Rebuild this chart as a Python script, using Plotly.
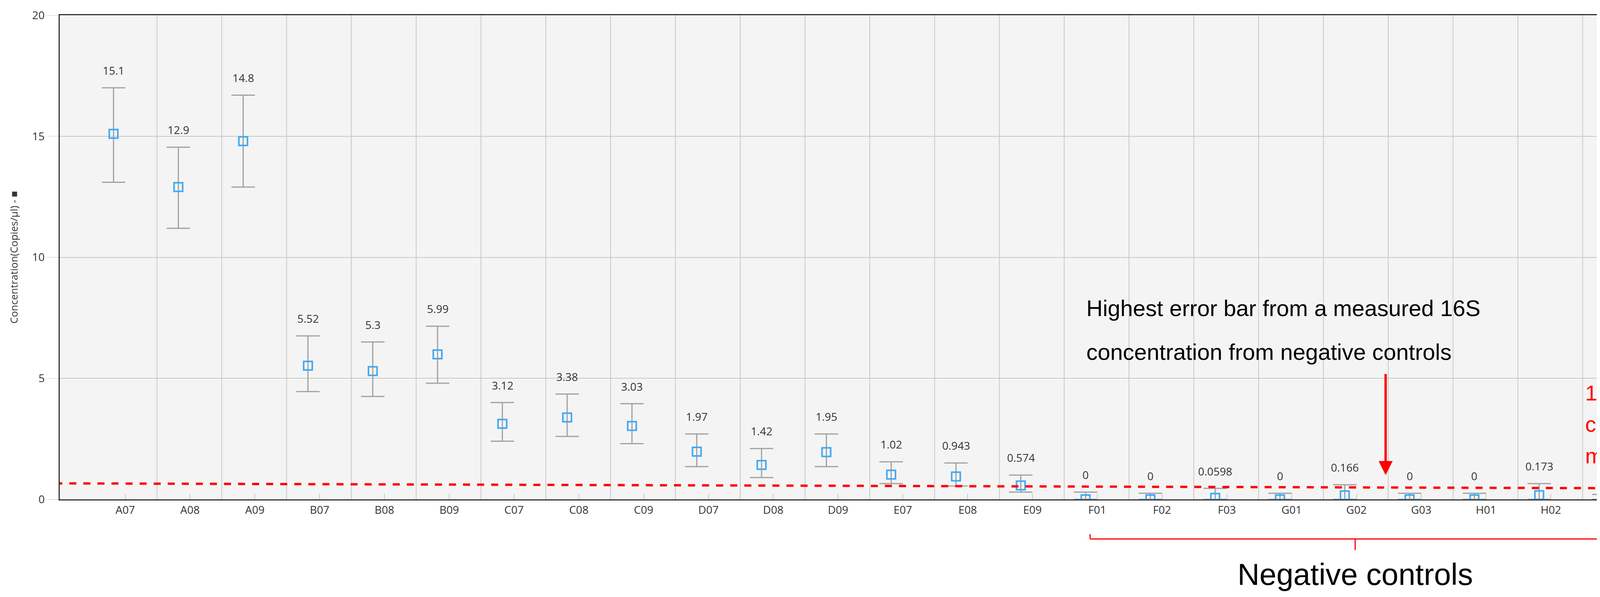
import plotly.graph_objects as go

wells = ["A07","A08","A09","B07","B08","B09","C07","C08","C09","D07","D08","D09",
         "E07","E08","E09","F01","F02","F03","G01","G02","G03","H01","H02","H03"]
conc = [15.1,12.9,14.8,5.52,5.3,5.99,3.12,3.38,3.03,1.97,1.42,1.95,1.02,0.943,0.574,
        0,0,0.0598,0,0.166,0,0,0.173,0]
labels = ["15.1","12.9","14.8","5.52","5.3","5.99","3.12","3.38","3.03","1.97","1.42","1.95",
          "1.02","0.943","0.574","0","0","0.0598","0","0.166","0","0","0.173","0"]
err_hi = [17.0,14.55,16.7,6.75,6.5,7.15,4.0,4.35,3.95,2.7,2.1,2.7,1.55,1.5,1.0,
          0.3,0.25,0.45,0.25,0.6,0.25,0.25,0.65,0.2]
err_lo = [13.1,11.2,12.9,4.45,4.25,4.8,2.4,2.6,2.3,1.35,0.9,1.35,0.65,0.55,0.3,
          0,0,0,0,0,0,0,0,0]
y_ticks = [0,5,10,15,20]

n = len(wells)
xs = list(range(n))
fig = go.Figure()
fig.add_trace(go.Scatter(
    x=xs, y=conc, mode="markers",
    marker=dict(symbol="square-open", size=22, color="#3fa9f5", line=dict(width=4)),
    error_y=dict(type="data", symmetric=False,
                 array=[h - c for h, c in zip(err_hi, conc)],
                 arrayminus=[c - l for c, l in zip(conc, err_lo)],
                 color="#a0a0a0", thickness=3, width=30),
    showlegend=False))

for i in xs:
    fig.add_annotation(x=i, y=err_hi[i] + 0.72, text=labels[i], showarrow=False,
                       font=dict(size=28, color="#333", family="Open Sans"))

for i in range(n - 1):
    fig.add_shape(type="line", x0=i + 0.67, x1=i + 0.67, y0=0, y1=20, xref="x", yref="y",
                  line=dict(color="#c8c8c8", width=2), layer="below")

fig.add_shape(type="line", x0=-0.9, x1=24.2, y0=0.66, y1=0.45, xref="x", yref="y",
              line=dict(color="#ff0000", width=6, dash="dash"))
for t, yy in [("1.8", 4.4), ("copies/", 3.1), ("mcL", 1.8)]:
    fig.add_annotation(x=22.7, y=yy, text=t, showarrow=False, xanchor="left",
                       font=dict(size=56, color="#ff0000", family="Liberation Sans"))

fig.add_annotation(x=19.63, y=1.0, ax=19.63, ay=5.2, xref="x", yref="y", axref="x", ayref="y",
                   text="", showarrow=True, arrowhead=2, arrowsize=1.2, arrowwidth=6,
                   arrowcolor="#ff0000")
fig.add_annotation(x=15.0, y=7.9, text="Highest error bar from a measured 16S", showarrow=False,
                   xanchor="left", font=dict(size=58, color="#000", family="Liberation Sans"))
fig.add_annotation(x=15.0, y=6.1, text="concentration from negative controls", showarrow=False,
                   xanchor="left", font=dict(size=58, color="#000", family="Liberation Sans"))

bx0, bx1, bxc = 15.07, 23.26, 19.16
for seg in [(bx0, -0.072, bx0, -0.082), (bx1, -0.072, bx1, -0.082), (bx0, -0.082, bx1, -0.082),
            (bxc, -0.082, bxc, -0.105)]:
    fig.add_shape(type="line", x0=seg[0], y0=seg[1], x1=seg[2], y1=seg[3], xref="x", yref="paper",
                  line=dict(color="#ff0000", width=3))
fig.add_annotation(x=bxc, y=-0.155, xref="x", yref="paper", text="Negative controls", showarrow=False,
                   yanchor="middle", font=dict(size=78, color="#000", family="Liberation Sans"))

fig.update_layout(
    width=4299, height=1528, paper_bgcolor="white", plot_bgcolor="#f4f4f4",
    margin=dict(l=145, r=2, t=31, b=258),
    xaxis=dict(range=[-0.83, 24.18], tickvals=[i + 0.18 for i in xs], ticktext=wells,
               showgrid=False, zeroline=False, ticks="inside", ticklen=14, tickcolor="#c8c8c8",
               tickwidth=2, showline=True, linecolor="#333", linewidth=3, mirror=True,
               tickfont=dict(size=28, color="#333", family="Open Sans")),
    yaxis=dict(range=[0, 20], tickvals=y_ticks, showgrid=True, gridcolor="#c8c8c8", gridwidth=2,
               zeroline=False, showline=True, linecolor="#333", linewidth=3, mirror=True,
               ticks="outside", ticklen=30, tickcolor="#c8c8c8",
               title=dict(text="Concentration(Copies/µl) - ■", standoff=30,
                          font=dict(size=26, color="#333", family="Open Sans")),
               tickfont=dict(size=28, color="#333", family="Open Sans")),
)
fig.write_html("out.html")
